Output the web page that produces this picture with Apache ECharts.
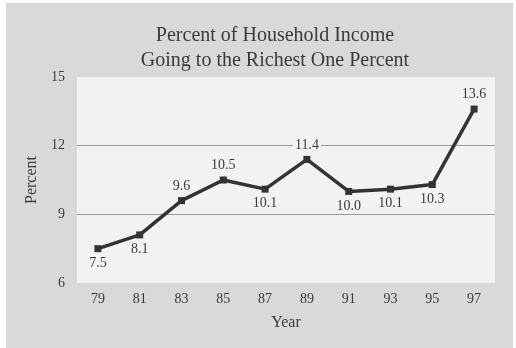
<!DOCTYPE html>
<html>
<head>
<meta charset="utf-8">
<script src="https://cdn.jsdelivr.net/npm/echarts@6/dist/echarts.min.js"></script>
<style>
    html, body { margin: 0; padding: 0; background: #fff; }
    #chart { width: 516px; height: 348px; }
</style>
</head>
<body>
<div id="chart"></div>
<script>
var years = ['79', '81', '83', '85', '87', '89', '91', '93', '95', '97']
var percent = [7.5, 8.1, 9.6, 10.5, 10.1, 11.4, 10.0, 10.1, 10.3, 13.6]
var yTicks = [6, 9, 12, 15]
// where each value label sits relative to its point
var labelSide = ['bottom', 'bottom', 'top', 'top', 'bottom', 'top', 'bottom', 'bottom', 'bottom', 'top']

var serif = '"Liberation Serif", "DejaVu Serif", serif'
var ink = '#3a3a3a'

var chart = echarts.init(document.getElementById('chart'))
chart.setOption({
    backgroundColor: '#fff',
    animation: false,
    graphic: [{
        type: 'rect',
        z: -10,
        shape: { x: 6, y: 3, width: 507, height: 345 },
        style: { fill: '#d9d9d9' }
    }],
    title: {
        text: 'Percent of Household Income\nGoing to the Richest One Percent',
        left: 270,
        top: 18,
        textAlign: 'center',
        textStyle: {
            fontFamily: serif,
            fontSize: 20,
            fontWeight: 'normal',
            color: ink,
            lineHeight: 25
        }
    },
    grid: {
        left: 77,
        right: 21,
        top: 77,
        bottom: 65,
        show: true,
        backgroundColor: '#f2f2f2',
        borderWidth: 0
    },
    xAxis: {
        type: 'category',
        data: years,
        boundaryGap: true,
        name: 'Year',
        nameLocation: 'middle',
        nameGap: 32,
        nameTextStyle: { fontFamily: serif, fontSize: 16, color: ink },
        axisLine: { show: false },
        axisTick: { show: false },
        axisLabel: { fontFamily: serif, fontSize: 14, color: ink, margin: 9 }
    },
    yAxis: {
        type: 'value',
        min: yTicks[0],
        max: yTicks[yTicks.length - 1],
        interval: 3,
        name: 'Percent',
        nameLocation: 'middle',
        nameGap: 36,
        nameTextStyle: { fontFamily: serif, fontSize: 16, color: ink },
        axisLine: { show: false },
        axisTick: { show: false },
        axisLabel: { fontFamily: serif, fontSize: 14, color: ink, margin: 12 },
        splitLine: {
            show: true,
            showMinLine: false,
            showMaxLine: false,
            lineStyle: { color: '#9a9a9a', width: 1 }
        }
    },
    series: [{
        type: 'line',
        data: percent.map(function (v, i) {
            return {
                value: v,
                label: { position: labelSide[i] }
            }
        }),
        symbol: 'rect',
        symbolSize: 7,
        lineStyle: { color: '#333', width: 3.5 },
        itemStyle: { color: '#333' },
        label: {
            show: true,
            fontFamily: serif,
            fontSize: 14,
            lineHeight: 14,
            color: ink,
            distance: 4,
            backgroundColor: '#f2f2f2',
            padding: [0, 2],
            formatter: function (p) { return p.value.toFixed(1) }
        }
    }]
})
</script>
</body>
</html>
